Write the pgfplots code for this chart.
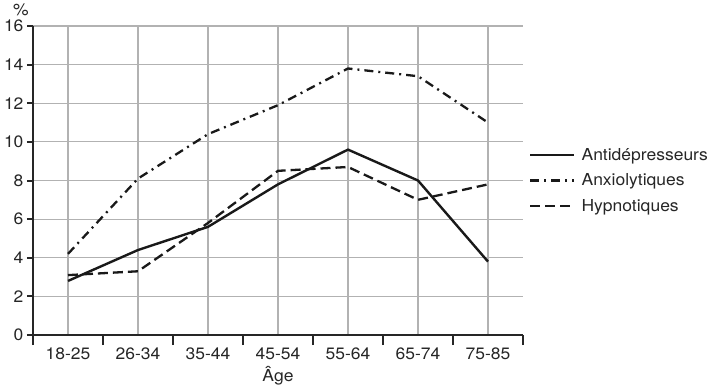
\documentclass[border=0pt]{standalone}
\usepackage{fontspec}
\setmainfont{TeX Gyre Heros}[FakeStretch=1.06]
\usepackage{pgfplots}
\pgfplotsset{compat=1.18}
\newcommand{\lblfont}{\fontsize{16.5}{19}\selectfont}
\begin{document}
\begin{tikzpicture}
\begin{axis}[
 scale only axis, width=490pt, height=309pt,
 xmin=-0.5, xmax=6.5, ymin=0, ymax=16,
 axis lines=left, axis line style={-, line width=2.6pt, black!85},
 xtick={0,...,6}, xticklabels={18-25,26-34,35-44,45-54,55-64,65-74,75-85},
 major x tick style={draw=none},
 minor xtick={-0.5,0.5,...,6.5},
 minor tick length=10pt,
 ytick={0,2,...,16},
 major tick length=6pt,
 tick align=outside,
 tick style={black!85, line width=2pt},
 grid=major, grid style={black!30, line width=1.2pt},
 /pgf/number format/assume math mode=true,
 ticklabel style={font=\lblfont, text=black!85},
 xticklabel style={yshift=-3pt},
 xlabel={Âge}, xlabel style={font=\lblfont, text=black!85, yshift=0pt},
 clip=false,
 legend style={draw=none, fill=none, at={(axis description cs:1,0.5)}, anchor=west, xshift=3pt,
   font=\lblfont, text=black!85, row sep=8pt,
   nodes={inner xsep=6pt}},
 legend cell align=left,
 legend image code/.code={\draw[#1] (0pt,0pt) -- (44pt,0pt);},
]
\addplot[black!90, line width=2.4pt] coordinates {(0,2.8) (1,4.4) (2,5.6) (3,7.8) (4,9.6) (5,8.0) (6,3.8)};
\addlegendentry{Antidépresseurs}
\addplot[black!90, line width=2.3pt, dash pattern=on 9pt off 5pt on 2pt off 5pt] coordinates {(0,4.2) (1,8.1) (2,10.4) (3,11.9) (4,13.8) (5,13.4) (6,11.0)};
\addlegendentry{Anxiolytiques}
\addplot[black!90, line width=2.3pt, dash pattern=on 10pt off 5pt] coordinates {(0,3.1) (1,3.3) (2,5.8) (3,8.5) (4,8.7) (5,7.0) (6,7.8)};
\addlegendentry{Hypnotiques}
\node[font=\lblfont, text=black!85] at (axis description cs:0,1) [shift={(-12pt,16pt)}] {\%};
\end{axis}
\pgfresetboundingbox
\useasboundingbox (-33pt,-51pt) rectangle (677pt,335pt);
\end{tikzpicture}
\end{document}
